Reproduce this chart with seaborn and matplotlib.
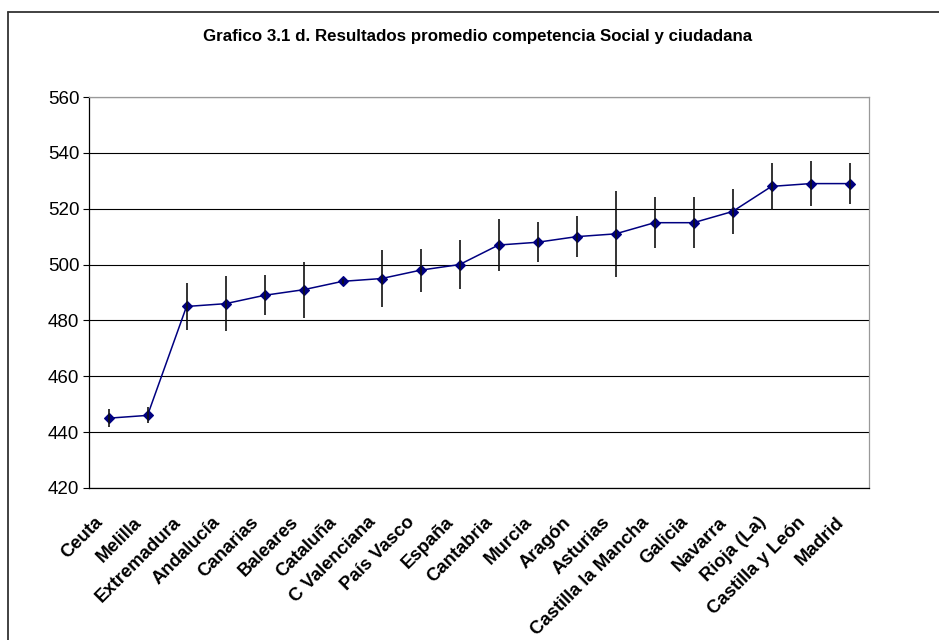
import seaborn as sns
import pandas as pd
import matplotlib.pyplot as plt
import matplotlib.transforms as mtrans
from matplotlib.lines import Line2D
from matplotlib.ticker import FixedLocator

# Data
regiones = ['Ceuta', 'Melilla', 'Extremadura', 'Andalucía', 'Canarias', 'Baleares',
            'Cataluña', 'C Valenciana', 'País Vasco', 'España', 'Cantabria', 'Murcia',
            'Aragón', 'Asturias', 'Castilla la Mancha', 'Galicia', 'Navarra',
            'Rioja (La)', 'Castilla y León', 'Madrid']
promedio = [445, 446, 485, 486, 489, 491, 494, 495, 498, 500, 507, 508,
            510, 511, 515, 515, 519, 528, 529, 529]
error = [3.3, 2.9, 8.4, 9.9, 7.1, 10.0, 0.8, 10.1, 7.7, 8.9, 9.2, 7.2,
         7.3, 15.4, 9.2, 9.2, 8.0, 8.5, 8.2, 7.2]

df = pd.DataFrame({'Region': regiones, 'Promedio': promedio, 'Error': error})

sns.set_style('white')
plt.rcParams['font.family'] = ['Liberation Sans', 'DejaVu Sans']
plt.rcParams['text.color'] = 'black'
plt.rcParams['xtick.color'] = 'black'
plt.rcParams['ytick.color'] = 'black'

fig = plt.figure(figsize=(9.39, 6.4), dpi=100)
ax = fig.add_axes([0.0948, 0.2375, 0.8307, 0.6109])

# error bars behind the line
ax.errorbar(range(len(df)), df['Promedio'], yerr=df['Error'], fmt='none',
            ecolor='#111111', elinewidth=1.2, capsize=0, zorder=2)
sns.pointplot(data=df, x='Region', y='Promedio', color='#000080', markers='D',
              markersize=5, linewidth=1.1, errorbar=None, ax=ax, zorder=3)
for c in ax.collections:
    c.set_zorder(4)

ax.set_xlim(-0.5, len(df) - 0.5)
ax.set_ylim(420, 560)
ax.set_yticks(range(420, 561, 20))
ax.yaxis.grid(True, color='black', linewidth=0.8)
ax.set_axisbelow(True)

# category ticks between categories, labels at centres
ax.xaxis.set_minor_locator(FixedLocator([i - 0.5 for i in range(len(df) + 1)]))
ax.tick_params(axis='x', which='major', length=0, pad=20)
ax.tick_params(axis='x', which='minor', length=4, width=0.8, color='black', direction='out')
ax.tick_params(axis='y', length=4, width=0.8, color='black', direction='out',
               labelsize=13.5, pad=3, left=True, labelcolor='black')
ax.set_xticks(range(len(df)))
ax.set_xticklabels(df['Region'], rotation=45, ha='right', rotation_mode='anchor',
                   fontsize=13.3, fontweight='bold', color='black')
shift = mtrans.ScaledTranslation(-14 / 100, 2 / 100, fig.dpi_scale_trans)
for lab in ax.get_xticklabels():
    lab.set_transform(lab.get_transform() + shift)

ax.set_xlabel('')
ax.set_ylabel('')
for side in ['left', 'bottom']:
    ax.spines[side].set_color('black')
    ax.spines[side].set_linewidth(0.9)
for side in ['top', 'right']:
    ax.spines[side].set_color('#999999')
    ax.spines[side].set_linewidth(0.9)
    ax.spines[side].set_visible(True)

fig.text(0.509, 1 - 37 / 640, 'Grafico 3.1 d. Resultados promedio competencia Social y ciudadana',
         ha='center', va='center', fontsize=12.2, fontweight='bold', color='black')

# outer frame (only left and top edges fall inside the image)
fig.add_artist(Line2D([7.5 / 939, 7.5 / 939], [0, 1 - 11.5 / 640], color='#333333', lw=1.3))
fig.add_artist(Line2D([7.5 / 939, 1], [1 - 11.5 / 640, 1 - 11.5 / 640], color='#333333', lw=1.3))

fig.savefig('out.png', dpi=100)
